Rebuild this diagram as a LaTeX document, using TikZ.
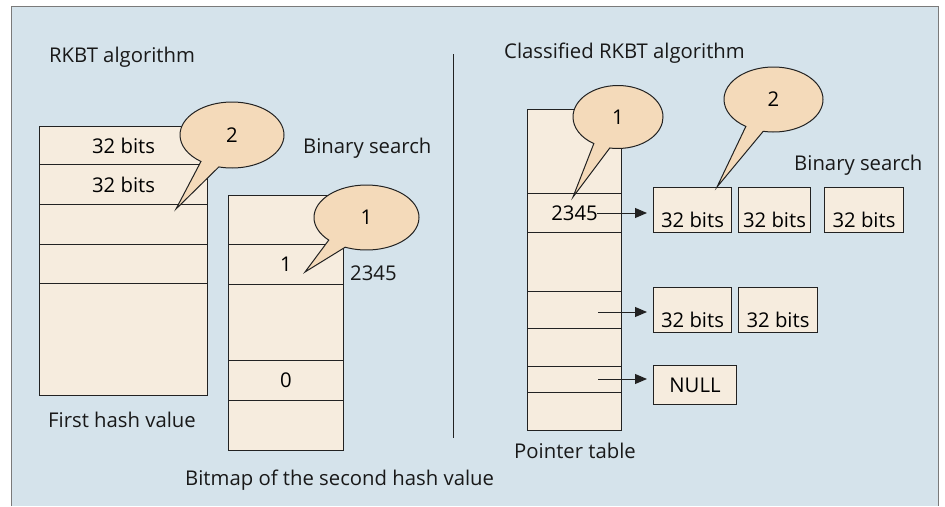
\documentclass[tikz,border=0pt]{standalone}
\usepackage{fontspec}
\setmainfont{Open Sans}
\usetikzlibrary{arrows.meta,shapes.callouts}
\definecolor{bgblue}{HTML}{D5E3EB}
\definecolor{cellfill}{HTML}{F6ECDE}
\definecolor{callfill}{HTML}{F4DABA}
\definecolor{framegray}{HTML}{7A7A7A}
\definecolor{inkline}{HTML}{222222}
\begin{document}
\begin{tikzpicture}[x=1pt,y=-1pt,
  font=\fontsize{20.3}{24}\selectfont,
  cell/.style={draw=inkline, fill=cellfill, line width=1.1pt, inner sep=0pt, anchor=north west},
  bitbox/.style={draw=inkline, fill=cellfill, line width=1pt, inner xsep=0pt, inner ysep=0pt,
                 text height=40pt, text depth=5pt, anchor=north west},
  nullbox/.style={draw=inkline, fill=cellfill, line width=1pt, inner sep=0pt, anchor=north west,
                  minimum width=83pt, minimum height=39pt},
  bubble/.style={ellipse callout, draw=inkline, fill=callfill, line width=1pt, inner sep=0pt,
                 callout pointer arc=22},
  lbl/.style={anchor=base west, inner sep=0pt, text=black!90},
  arr/.style={draw=inkline, line width=1pt, -{Triangle[length=12pt,width=10pt]}, shorten >=6pt},
]
\useasboundingbox (0,0) rectangle (945,506);
% frame
\fill[bgblue] (11,6) rectangle (938,506);
\draw[framegray, line width=1pt] (11,506) -- (11,6) -- (938,6) -- (938,506);
% divider
\draw[inkline, line width=1pt] (453,54) -- (453,438);

% titles and captions
\node[lbl] (tl) at (49,62) {RKBT algorithm};
\node[lbl] (tr) at (504,58) {Classified RKBT algorithm};
\node[lbl] (bsl) at (303,153) {Binary search};
\node[lbl] (bsr) at (794,170) {Binary search};
\node[lbl] (fhv) at (48,427) {First hash value};
\node[lbl] (bmp) at (185,485) {Bitmap of the second hash value};
\node[lbl] (ptt) at (514,458) {Pointer table};
\node[lbl] (n2345) at (350,280) {2345};

% first hash value table
\node[cell, minimum width=168, minimum height=38] (f1) at (39,126) {32 bits};
\node[cell, minimum width=168, minimum height=40] (f2) at (39,164) {32 bits};
\node[cell, minimum width=168, minimum height=40] (f3) at (39,204) {};
\node[cell, minimum width=168, minimum height=39] (f4) at (39,244) {};
\node[cell, minimum width=168, minimum height=112] (f5) at (39,283) {};

% bitmap table
\node[cell, minimum width=115, minimum height=49] (m1) at (228,195) {};
\node[cell, minimum width=115, minimum height=40] (m2) at (228,244) {1};
\node[cell, minimum width=115, minimum height=76] (m3) at (228,284) {};
\node[cell, minimum width=115, minimum height=40] (m4) at (228,360) {0};
\node[cell, minimum width=115, minimum height=50] (m5) at (228,400) {};

% pointer table
\node[cell, minimum width=94, minimum height=84] (p1) at (527,109) {};
\node[cell, minimum width=94, minimum height=39] (p2) at (527,193) {2345};
\node[cell, minimum width=94, minimum height=59] (p3) at (527,232) {};
\node[cell, minimum width=94, minimum height=37] (p4) at (527,291) {};
\node[cell, minimum width=94, minimum height=38] (p5) at (527,328) {};
\node[cell, minimum width=94, minimum height=26] (p6) at (527,366) {};
\node[cell, minimum width=94, minimum height=38] (p7) at (527,392) {};

% 32-bit boxes
\node[bitbox, minimum width=78] (s1) at (653,187) {32 bits};
\node[bitbox, minimum width=72] (s2) at (738,187) {32 bits};
\node[bitbox, minimum width=79] (s3) at (824,187) {32 bits};
\node[bitbox, minimum width=78] (u1) at (653,287) {32 bits};
\node[bitbox, minimum width=79] (u2) at (738,287) {32 bits};
\node[nullbox] (nul) at (653,365) {NULL};

% arrows
\coordinate (a1) at (597,213);
\coordinate (a2) at (598,312);
\coordinate (a3) at (598,379);
\draw[arr] (a1) -- (a1 -| s1.west);
\draw[arr] (a2) -- (a2 -| u1.west);
\draw[arr] (a3) -- (a3 -| nul.west);

% callouts
\coordinate (tipL2) at (176,209);
\coordinate (tipL1) at (305,272);
\coordinate (tipR1) at (573,197);
\coordinate (tipR2) at (717,187);
\node[bubble, minimum width=104, minimum height=66, callout absolute pointer={(tipL2)}] (cL2) at (232,135) {2};
\node[bubble, minimum width=105, minimum height=65, callout absolute pointer={(tipL1)}] (cL1) at (366.5,217.5) {1};
\node[bubble, minimum width=90, minimum height=63, callout absolute pointer={(tipR1)}] (cR1) at (618,117) {1};
\node[bubble, minimum width=99, minimum height=65, callout absolute pointer={(tipR2)}] (cR2) at (773.5,99.5) {2};
\end{tikzpicture}
\end{document}
